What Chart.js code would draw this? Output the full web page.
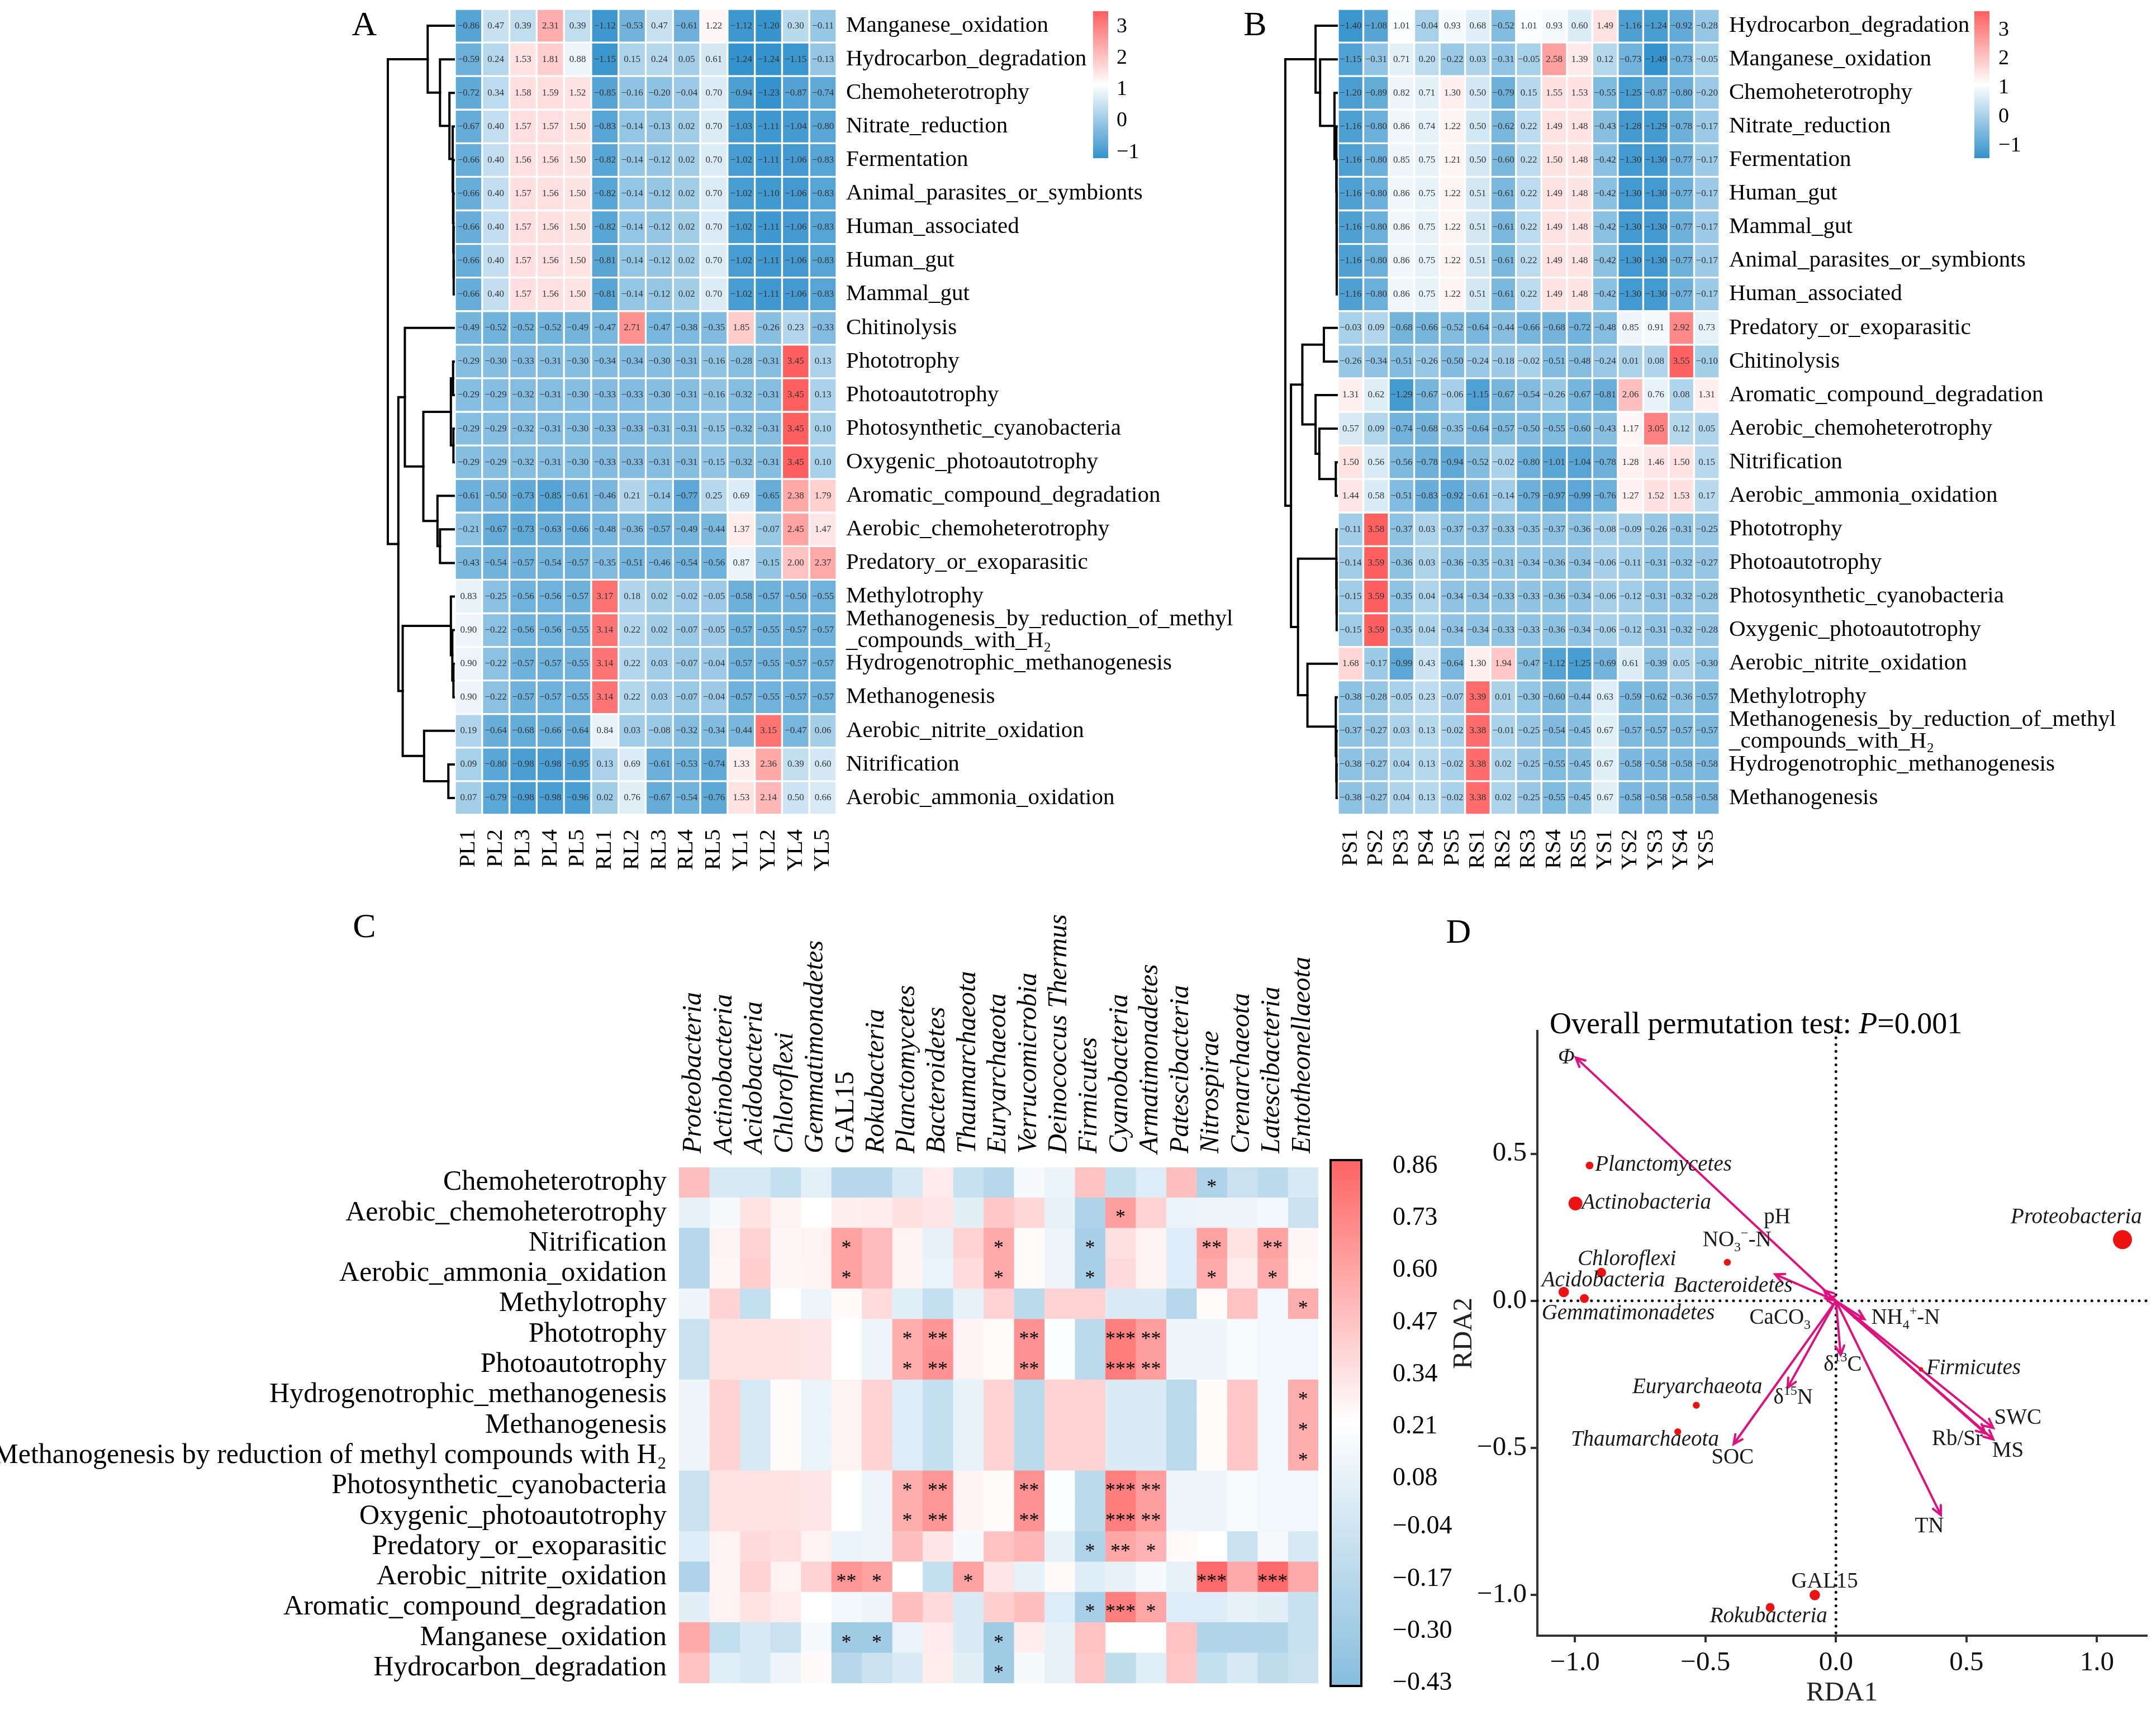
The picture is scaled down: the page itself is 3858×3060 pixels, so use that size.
<!DOCTYPE html>
<html lang="en">
<head>
<meta charset="UTF-8">
<script src="https://cdn.jsdelivr.net/npm/chart.js"></script>
<title>Functional groups, phyla and RDA</title>
<style>
  body { margin: 0; width: 3858px; height: 3060px; position: relative; background: #fff; overflow: hidden;
         font-family: "Liberation Serif", "DejaVu Serif", serif; color: #000; }
  canvas, .abs { position: absolute; }
  .letter { position: absolute; font-size: 62px; line-height: 1; transform: translate(-50%, -50%); }
  .cbl { position: absolute; line-height: 1; transform: translateY(-50%); white-space: nowrap; }
</style>
</head>
<body>
<canvas id="cA" width="1560" height="1580" style="left:690px;top:0px"></canvas>
<canvas id="cB" width="1588" height="1580" style="left:2270px;top:0px"></canvas>
<canvas id="cC" width="2380" height="1460" style="left:0px;top:1600px"></canvas>
<canvas id="cD" width="1298" height="1300" style="left:2560px;top:1760px"></canvas>

<div class="letter" style="left:652px;top:42px">A</div>
<div class="letter" style="left:2246px;top:42px">B</div>
<div class="letter" style="left:652px;top:1656px">C</div>
<div class="letter" style="left:2610px;top:1666px">D</div>
<div class="abs" style="left:2773px;top:1804px;font-size:54px;line-height:54px;white-space:nowrap">Overall permutation test: <i>P</i>=0.001</div>

<script>
// ---------- panel A : functional groups, leaf samples ----------
const colsA = ['PL1','PL2','PL3','PL4','PL5','RL1','RL2','RL3','RL4','RL5','YL1','YL2','YL4','YL5'];
const rowsA = ['Manganese_oxidation','Hydrocarbon_degradation','Chemoheterotrophy','Nitrate_reduction','Fermentation',
  'Animal_parasites_or_symbionts','Human_associated','Human_gut','Mammal_gut','Chitinolysis','Phototrophy','Photoautotrophy',
  'Photosynthetic_cyanobacteria','Oxygenic_photoautotrophy','Aromatic_compound_degradation','Aerobic_chemoheterotrophy',
  'Predatory_or_exoparasitic','Methylotrophy',['Methanogenesis_by_reduction_of_methyl','_compounds_with_H\u2082'],
  'Hydrogenotrophic_methanogenesis','Methanogenesis','Aerobic_nitrite_oxidation','Nitrification','Aerobic_ammonia_oxidation'];
const valsA = [
  [-0.86,0.47,0.39,2.31,0.39,-1.12,-0.53,0.47,-0.61,1.22,-1.12,-1.20,0.30,-0.11],
  [-0.59,0.24,1.53,1.81,0.88,-1.15,0.15,0.24,0.05,0.61,-1.24,-1.24,-1.15,-0.13],
  [-0.72,0.34,1.58,1.59,1.52,-0.85,-0.16,-0.20,-0.04,0.70,-0.94,-1.23,-0.87,-0.74],
  [-0.67,0.40,1.57,1.57,1.50,-0.83,-0.14,-0.13,0.02,0.70,-1.03,-1.11,-1.04,-0.80],
  [-0.66,0.40,1.56,1.56,1.50,-0.82,-0.14,-0.12,0.02,0.70,-1.02,-1.11,-1.06,-0.83],
  [-0.66,0.40,1.57,1.56,1.50,-0.82,-0.14,-0.12,0.02,0.70,-1.02,-1.10,-1.06,-0.83],
  [-0.66,0.40,1.57,1.56,1.50,-0.82,-0.14,-0.12,0.02,0.70,-1.02,-1.11,-1.06,-0.83],
  [-0.66,0.40,1.57,1.56,1.50,-0.81,-0.14,-0.12,0.02,0.70,-1.02,-1.11,-1.06,-0.83],
  [-0.66,0.40,1.57,1.56,1.50,-0.81,-0.14,-0.12,0.02,0.70,-1.02,-1.11,-1.06,-0.83],
  [-0.49,-0.52,-0.52,-0.52,-0.49,-0.47,2.71,-0.47,-0.38,-0.35,1.85,-0.26,0.23,-0.33],
  [-0.29,-0.30,-0.33,-0.31,-0.30,-0.34,-0.34,-0.30,-0.31,-0.16,-0.28,-0.31,3.45,0.13],
  [-0.29,-0.29,-0.32,-0.31,-0.30,-0.33,-0.33,-0.30,-0.31,-0.16,-0.32,-0.31,3.45,0.13],
  [-0.29,-0.29,-0.32,-0.31,-0.30,-0.33,-0.33,-0.31,-0.31,-0.15,-0.32,-0.31,3.45,0.10],
  [-0.29,-0.29,-0.32,-0.31,-0.30,-0.33,-0.33,-0.31,-0.31,-0.15,-0.32,-0.31,3.45,0.10],
  [-0.61,-0.50,-0.73,-0.85,-0.61,-0.46,0.21,-0.14,-0.77,0.25,0.69,-0.65,2.38,1.79],
  [-0.21,-0.67,-0.73,-0.63,-0.66,-0.48,-0.36,-0.57,-0.49,-0.44,1.37,-0.07,2.45,1.47],
  [-0.43,-0.54,-0.57,-0.54,-0.57,-0.35,-0.51,-0.46,-0.54,-0.56,0.87,-0.15,2.00,2.37],
  [0.83,-0.25,-0.56,-0.56,-0.57,3.17,0.18,0.02,-0.02,-0.05,-0.58,-0.57,-0.50,-0.55],
  [0.90,-0.22,-0.56,-0.56,-0.55,3.14,0.22,0.02,-0.07,-0.05,-0.57,-0.55,-0.57,-0.57],
  [0.90,-0.22,-0.57,-0.57,-0.55,3.14,0.22,0.03,-0.07,-0.04,-0.57,-0.55,-0.57,-0.57],
  [0.90,-0.22,-0.57,-0.57,-0.55,3.14,0.22,0.03,-0.07,-0.04,-0.57,-0.55,-0.57,-0.57],
  [0.19,-0.64,-0.68,-0.66,-0.64,0.84,0.03,-0.08,-0.32,-0.34,-0.44,3.15,-0.47,0.06],
  [0.09,-0.80,-0.98,-0.98,-0.95,0.13,0.69,-0.61,-0.53,-0.74,1.33,2.36,0.39,0.60],
  [0.07,-0.79,-0.98,-0.98,-0.96,0.02,0.76,-0.67,-0.54,-0.76,1.53,2.14,0.50,0.66]];
// row clustering: [height, left, right], leaves are row indexes
const treeA = [182,
  [72, 0, [38, 1, [12, 2, [3, 3, [2, 4, [1, 5, [0.6, 6, [0.3, 7, 8]]]]]]]],
  [153,
    [135, 9, [84, [8, [2, 10, 11], [1, 12, 13]], [45, 14, [38, 15, 16]]]],
    [141, [8, 17, [4, 18, [1, 19, 20]]], [82, 21, [15, 22, 23]]]]];
const barTicksA = [3, 2, 1, 0, -1];

// ---------- panel B : functional groups, soil samples ----------
const colsB = ['PS1','PS2','PS3','PS4','PS5','RS1','RS2','RS3','RS4','RS5','YS1','YS2','YS3','YS4','YS5'];
const rowsB = ['Hydrocarbon_degradation','Manganese_oxidation','Chemoheterotrophy','Nitrate_reduction','Fermentation',
  'Human_gut','Mammal_gut','Animal_parasites_or_symbionts','Human_associated','Predatory_or_exoparasitic','Chitinolysis',
  'Aromatic_compound_degradation','Aerobic_chemoheterotrophy','Nitrification','Aerobic_ammonia_oxidation','Phototrophy',
  'Photoautotrophy','Photosynthetic_cyanobacteria','Oxygenic_photoautotrophy','Aerobic_nitrite_oxidation','Methylotrophy',
  ['Methanogenesis_by_reduction_of_methyl','_compounds_with_H\u2082'],'Hydrogenotrophic_methanogenesis','Methanogenesis'];
const valsB = [
  [-1.40,-1.08,1.01,-0.04,0.93,0.68,-0.52,1.01,0.93,0.60,1.49,-1.16,-1.24,-0.92,-0.28],
  [-1.15,-0.31,0.71,0.20,-0.22,0.03,-0.31,-0.05,2.58,1.39,0.12,-0.73,-1.49,-0.73,-0.05],
  [-1.20,-0.89,0.82,0.71,1.30,0.50,-0.79,0.15,1.55,1.53,-0.55,-1.25,-0.87,-0.80,-0.20],
  [-1.16,-0.80,0.86,0.74,1.22,0.50,-0.62,0.22,1.49,1.48,-0.43,-1.28,-1.29,-0.78,-0.17],
  [-1.16,-0.80,0.85,0.75,1.21,0.50,-0.60,0.22,1.50,1.48,-0.42,-1.30,-1.30,-0.77,-0.17],
  [-1.16,-0.80,0.86,0.75,1.22,0.51,-0.61,0.22,1.49,1.48,-0.42,-1.30,-1.30,-0.77,-0.17],
  [-1.16,-0.80,0.86,0.75,1.22,0.51,-0.61,0.22,1.49,1.48,-0.42,-1.30,-1.30,-0.77,-0.17],
  [-1.16,-0.80,0.86,0.75,1.22,0.51,-0.61,0.22,1.49,1.48,-0.42,-1.30,-1.30,-0.77,-0.17],
  [-1.16,-0.80,0.86,0.75,1.22,0.51,-0.61,0.22,1.49,1.48,-0.42,-1.30,-1.30,-0.77,-0.17],
  [-0.03,0.09,-0.68,-0.66,-0.52,-0.64,-0.44,-0.66,-0.68,-0.72,-0.48,0.85,0.91,2.92,0.73],
  [-0.26,-0.34,-0.51,-0.26,-0.50,-0.24,-0.18,-0.02,-0.51,-0.48,-0.24,0.01,0.08,3.55,-0.10],
  [1.31,0.62,-1.29,-0.67,-0.06,-1.15,-0.67,-0.54,-0.26,-0.67,-0.81,2.06,0.76,0.08,1.31],
  [0.57,0.09,-0.74,-0.68,-0.35,-0.64,-0.57,-0.50,-0.55,-0.60,-0.43,1.17,3.05,0.12,0.05],
  [1.50,0.56,-0.56,-0.78,-0.94,-0.52,-0.02,-0.80,-1.01,-1.04,-0.78,1.28,1.46,1.50,0.15],
  [1.44,0.58,-0.51,-0.83,-0.92,-0.61,-0.14,-0.79,-0.97,-0.99,-0.76,1.27,1.52,1.53,0.17],
  [-0.11,3.58,-0.37,0.03,-0.37,-0.37,-0.33,-0.35,-0.37,-0.36,-0.08,-0.09,-0.26,-0.31,-0.25],
  [-0.14,3.59,-0.36,0.03,-0.36,-0.35,-0.31,-0.34,-0.36,-0.34,-0.06,-0.11,-0.31,-0.32,-0.27],
  [-0.15,3.59,-0.35,0.04,-0.34,-0.34,-0.33,-0.33,-0.36,-0.34,-0.06,-0.12,-0.31,-0.32,-0.28],
  [-0.15,3.59,-0.35,0.04,-0.34,-0.34,-0.33,-0.33,-0.36,-0.34,-0.06,-0.12,-0.31,-0.32,-0.28],
  [1.68,-0.17,-0.99,0.43,-0.64,1.30,1.94,-0.47,-1.12,-1.25,-0.69,0.61,-0.39,0.05,-0.30],
  [-0.38,-0.28,-0.05,0.23,-0.07,3.39,0.01,-0.30,-0.60,-0.44,0.63,-0.59,-0.62,-0.36,-0.57],
  [-0.37,-0.27,0.03,0.13,-0.02,3.38,-0.01,-0.25,-0.54,-0.45,0.67,-0.57,-0.57,-0.57,-0.57],
  [-0.38,-0.27,0.04,0.13,-0.02,3.38,0.02,-0.25,-0.55,-0.45,0.67,-0.58,-0.58,-0.58,-0.58],
  [-0.38,-0.27,0.04,0.13,-0.02,3.38,0.02,-0.25,-0.55,-0.45,0.67,-0.58,-0.58,-0.58,-0.58]];
const treeB = [272,
  [112, 0, [88, 1, [12, 2, [2, 3, [1, 4, [0.6, 5, [0.4, 6, [0.2, 7, 8]]]]]]]],
  [242,
    [182, [68, 9, 10], [112, 11, [92, 12, [5, 13, 14]]]],
    [205, [2, 15, [1, 16, [0.5, 17, 18]]], [155, 19, [5, 20, [2, 21, [1, 22, 23]]]]]]];
const barTicksB = [3, 2, 1, 0, -1];

// ---------- panel C : phyla vs functions correlation ----------
const colsC = ['Proteobacteria','Actinobacteria','Acidobacteria','Chloroflexi','Gemmatimonadetes','GAL15','Rokubacteria',
  'Planctomycetes','Bacteroidetes','Thaumarchaeota','Euryarchaeota','Verrucomicrobia','Deinococcus Thermus','Firmicutes',
  'Cyanobacteria','Armatimonadetes','Patescibacteria','Nitrospirae','Crenarchaeota','Latescibacteria','Entotheonellaeota'];
const rowsC = ['Chemoheterotrophy','Aerobic_chemoheterotrophy','Nitrification','Aerobic_ammonia_oxidation','Methylotrophy',
  'Phototrophy','Photoautotrophy','Hydrogenotrophic_methanogenesis','Methanogenesis',
  'Methanogenesis by reduction of methyl compounds with H\u2082','Photosynthetic_cyanobacteria','Oxygenic_photoautotrophy',
  'Predatory_or_exoparasitic','Aerobic_nitrite_oxidation','Aromatic_compound_degradation','Manganese_oxidation','Hydrocarbon_degradation'];
const corrC = [
  [0.48,0.00,0.00,-0.10,0.07,-0.17,-0.17,0.00,0.30,-0.08,-0.17,0.17,0.10,0.47,-0.10,0.03,0.48,-0.22,-0.07,-0.15,0.00],
  [0.08,0.17,0.33,0.27,0.21,0.28,0.29,0.34,0.32,0.06,0.45,0.38,0.08,-0.22,0.62,0.40,0.10,0.12,0.12,0.15,-0.07],
  [-0.17,0.27,0.40,0.25,0.27,0.60,0.50,0.27,0.08,0.40,0.57,0.23,0.12,-0.26,0.35,0.27,0.03,0.60,0.33,0.60,0.25],
  [-0.17,0.25,0.42,0.25,0.26,0.60,0.50,0.27,0.10,0.36,0.57,0.23,0.12,-0.26,0.37,0.27,0.03,0.57,0.29,0.57,0.24],
  [0.13,0.40,-0.10,0.21,0.12,0.24,0.36,0.05,-0.10,0.08,0.40,-0.15,0.40,0.40,0.02,0.02,-0.17,0.23,0.47,0.14,0.55],
  [-0.07,0.33,0.33,0.33,0.32,0.22,0.12,0.55,0.65,0.27,0.23,0.67,0.20,-0.15,0.75,0.62,0.13,0.13,0.18,0.14,0.14],
  [-0.07,0.33,0.33,0.33,0.32,0.22,0.12,0.55,0.67,0.27,0.23,0.67,0.20,-0.15,0.76,0.62,0.13,0.13,0.18,0.14,0.14],
  [0.13,0.40,0.00,0.23,0.10,0.27,0.40,0.03,-0.10,0.09,0.40,-0.15,0.40,0.40,0.02,0.02,-0.15,0.23,0.45,0.14,0.55],
  [0.13,0.40,0.00,0.23,0.10,0.27,0.40,0.03,-0.10,0.09,0.40,-0.15,0.40,0.40,0.02,0.02,-0.15,0.23,0.45,0.14,0.55],
  [0.13,0.40,0.00,0.23,0.10,0.27,0.40,0.03,-0.10,0.09,0.40,-0.15,0.40,0.40,0.02,0.02,-0.15,0.23,0.45,0.14,0.55],
  [-0.07,0.33,0.33,0.33,0.32,0.22,0.12,0.55,0.65,0.27,0.23,0.67,0.20,-0.15,0.75,0.62,0.13,0.13,0.18,0.14,0.14],
  [-0.07,0.33,0.33,0.33,0.32,0.22,0.12,0.55,0.65,0.27,0.23,0.67,0.20,-0.15,0.75,0.62,0.13,0.13,0.18,0.14,0.14],
  [0.03,0.27,0.37,0.35,0.27,0.10,0.12,0.48,0.32,0.17,0.47,0.52,0.08,-0.22,0.58,0.53,0.24,0.21,-0.07,0.16,0.00],
  [-0.22,0.27,0.40,0.27,0.40,0.65,0.60,0.22,-0.10,0.60,0.32,0.08,0.24,0.04,0.08,0.17,0.08,0.84,0.57,0.84,0.57],
  [0.06,0.27,0.33,0.29,0.21,0.15,0.12,0.48,0.37,0.02,0.42,0.48,0.03,-0.26,0.75,0.58,0.03,0.03,0.08,0.06,-0.08],
  [0.57,-0.12,0.00,-0.07,0.17,-0.30,-0.30,0.10,0.30,0.02,-0.30,0.29,0.08,0.47,0.21,0.22,0.47,-0.20,-0.20,-0.20,-0.08],
  [0.47,0.05,0.00,0.12,0.24,-0.17,-0.07,0.02,0.29,0.06,-0.30,0.17,0.08,0.45,-0.13,0.05,0.45,-0.10,0.00,-0.13,-0.07]];
// significance marks: [row, column, stars]
const starsC = [
  [0,17,'*'],[1,14,'*'],
  [2,5,'*'],[2,10,'*'],[2,13,'*'],[2,17,'**'],[2,19,'**'],
  [3,5,'*'],[3,10,'*'],[3,13,'*'],[3,17,'*'],[3,19,'*'],
  [4,20,'*'],
  [5,7,'*'],[5,8,'**'],[5,11,'**'],[5,14,'***'],[5,15,'**'],
  [6,7,'*'],[6,8,'**'],[6,11,'**'],[6,14,'***'],[6,15,'**'],
  [7,20,'*'],[8,20,'*'],[9,20,'*'],
  [10,7,'*'],[10,8,'**'],[10,11,'**'],[10,14,'***'],[10,15,'**'],
  [11,7,'*'],[11,8,'**'],[11,11,'**'],[11,14,'***'],[11,15,'**'],
  [12,13,'*'],[12,14,'**'],[12,15,'*'],
  [13,5,'**'],[13,6,'*'],[13,9,'*'],[13,17,'***'],[13,19,'***'],
  [14,13,'*'],[14,14,'***'],[14,15,'*'],
  [15,5,'*'],[15,6,'*'],[15,10,'*'],
  [16,10,'*']];
const barTicksC = [0.86, 0.73, 0.60, 0.47, 0.34, 0.21, 0.08, -0.04, -0.17, -0.30, -0.43];

// ---------- panel D : RDA ----------
const spNames = ['Proteobacteria','Actinobacteria','Acidobacteria','Chloroflexi','Gemmatimonadetes','GAL15',
  'Rokubacteria','Planctomycetes','Bacteroidetes','Firmicutes','Euryarchaeota','Thaumarchaeota'];
const spX = [1.098, -0.998, -1.043, -0.899, -0.964, -0.081, -0.252, -0.944, -0.416, 0.326, -0.535, -0.606];
const spY = [0.208, 0.331, 0.030, 0.096, 0.008, -1.000, -1.042, 0.460, 0.131, -0.233, -0.355, -0.445];
const spAbund = [30, 16, 9, 7.5, 6.5, 9, 6.5, 5, 4, 1.6, 4, 4];
const spLabX = [0.921, -0.726, -0.891, -0.801, -0.796, -0.043, -0.258, -0.661, -0.394, 0.527, -0.531, -0.732];
const spLabY = [0.283, 0.333, 0.068, 0.140, -0.044, -0.956, -1.073, 0.462, 0.050, -0.230, -0.295, -0.473];

const envNames = ['\u03A6','pH','NO_{3}^{\u2212}-N','CaCO_{3}','NH_{4}^{+}-N','\u03B4^{13}C','\u03B4^{15}N','SOC','TN','SWC','MS','Rb/Sr'];
const envX = [-0.997, -0.045, -0.233, -0.040, 0.109, 0.018, -0.185, -0.392, 0.402, 0.603, 0.603, 0.573];
const envY = [0.827, 0.035, 0.090, 0.008, -0.062, -0.184, -0.295, -0.487, -0.728, -0.432, -0.471, -0.451];
const envLabX = [-1.033, -0.225, -0.379, -0.214, 0.267, 0.026, -0.164, -0.396, 0.358, 0.697, 0.659, 0.465];
const envLabY = [0.827, 0.283, 0.205, -0.059, -0.059, -0.218, -0.331, -0.533, -0.767, -0.398, -0.510, -0.471];
const xTicksD = [-1, -0.5, 0, 0.5, 1];
const yTicksD = [-1, -0.5, 0, 0.5];

// ---------- helpers ----------
Chart.defaults.font.family = '"Liberation Serif", serif';
Chart.defaults.color = '#000';
const SERIF = '"Liberation Serif", serif';
const minus = s => String(s).replace('-', '\u2212');

function ramp(v, lo, mid, hi, cLo, cHi) {
  let t, a, b;
  if (v <= mid) { t = (v - lo) / (mid - lo); a = cLo; b = [255, 255, 255]; }
  else { t = (v - mid) / (hi - mid); a = [255, 255, 255]; b = cHi; }
  t = Math.max(0, Math.min(1, t));
  return 'rgb(' + a.map((c, i) => Math.round(c + (b[i] - c) * t)).join(',') + ')';
}

function colorbar(o) {
  const bar = document.createElement('div');
  bar.className = 'abs';
  const pm = ((o.hi - o.mid) / (o.hi - o.lo) * 100).toFixed(1);
  bar.style.cssText = `left:${o.left}px;top:${o.top}px;width:${o.w}px;height:${o.h}px;box-sizing:border-box;` +
    `background:linear-gradient(to bottom, rgb(${o.cHi}) 0%, #fff ${pm}%, rgb(${o.cLo}) 100%);` + (o.border || '');
  document.body.appendChild(bar);
  const t0 = o.top + (o.inset || 0), span = o.h - 2 * (o.inset || 0);
  o.ticks.forEach(v => {
    const t = document.createElement('div');
    t.className = 'cbl';
    t.style.left = o.labelLeft + 'px';
    t.style.top = (t0 + (o.hi - v) / (o.hi - o.lo) * span) + 'px';
    t.style.fontSize = o.font + 'px';
    t.textContent = o.fmt(v);
    document.body.appendChild(t);
  });
}

function dendro(tree, width) {
  return {
    id: 'dendro',
    afterDraw(chart) {
      const ys = chart.scales.y, ctx = chart.ctx, x0 = chart.chartArea.left - 2;
      const k = width / tree[0];
      ctx.save();
      ctx.strokeStyle = '#000'; ctx.lineWidth = 4; ctx.lineCap = 'square';
      const walk = n => {
        if (typeof n === 'number') return { x: x0, y: ys.getPixelForTick(n) };
        const a = walk(n[1]), b = walk(n[2]), x = x0 - n[0] * k;
        ctx.beginPath(); ctx.moveTo(a.x, a.y); ctx.lineTo(x, a.y); ctx.lineTo(x, b.y); ctx.lineTo(b.x, b.y); ctx.stroke();
        return { x, y: (a.y + b.y) / 2 };
      };
      walk(tree);
      ctx.restore();
    }
  };
}

function cellText(vals) {
  return {
    id: 'cellText',
    afterDatasetsDraw(chart) {
      const ctx = chart.ctx;
      ctx.save();
      ctx.font = '17px ' + SERIF; ctx.fillStyle = '#333'; ctx.textAlign = 'center'; ctx.textBaseline = 'middle';
      chart.data.datasets.forEach((ds, j) => {
        chart.getDatasetMeta(j).data.forEach((el, i) => {
          const p = el.getCenterPoint();
          ctx.fillText(minus(vals[i][j].toFixed(2)), p.x, p.y);
        });
      });
      ctx.restore();
    }
  };
}

function heatmap(id, rows, cols, vals, tree, treeW, yWidth) {
  const flat = vals.flat(), lo = Math.min(...flat), hi = Math.max(...flat), mid = (lo + hi) / 2;
  const cLo = [52, 146, 204], cHi = [255, 95, 95];
  new Chart(document.getElementById(id), {
    type: 'bar',
    data: {
      labels: rows,
      datasets: cols.map((c, j) => ({
        label: c,
        data: rows.map(() => [j, j + 1]),
        backgroundColor: rows.map((r, i) => ramp(vals[i][j], lo, mid, hi, cLo, cHi)),
        borderColor: '#fff', borderWidth: 2, borderSkipped: false
      }))
    },
    options: {
      indexAxis: 'y', responsive: false, animation: false,
      layout: { padding: { left: 124, top: 16, right: 0, bottom: 0 } },
      datasets: { bar: { grouped: false, barPercentage: 1, categoryPercentage: 1 } },
      plugins: { legend: { display: false }, tooltip: { enabled: false } },
      scales: {
        y: {
          position: 'right', grid: { display: false }, border: { display: false },
          ticks: { autoSkip: false, padding: 9, font: { size: 41, lineHeight: 0.95 }, color: '#000' },
          afterFit: s => { s.width = yWidth; s.paddingTop = 0; s.paddingBottom = 0; }
        },
        x: {
          type: 'linear', min: 0, max: cols.length, grid: { display: false }, border: { display: false },
          afterBuildTicks: s => { s.ticks = cols.map((c, i) => ({ value: i + 0.5 })); },
          ticks: { autoSkip: false, minRotation: 90, maxRotation: 90, padding: 18, font: { size: 41 }, color: '#000',
                   callback: v => cols[Math.floor(v)] },
          afterFit: s => { s.height = 122; s.paddingLeft = 0; s.paddingRight = 0; }
        }
      }
    },
    plugins: [dendro(tree, treeW), cellText(vals)]
  });
  return { lo, mid, hi, cLo, cHi };
}

// ---------- A and B ----------
const sA = heatmap('cA', rowsA, colsA, valsA, treeA, 118, 753);
colorbar({ left: 1956, top: 20, w: 27, h: 263, lo: sA.lo, mid: sA.mid, hi: sA.hi, cLo: sA.cLo, cHi: sA.cHi,
  ticks: barTicksA, labelLeft: 1998, font: 38, fmt: v => minus(v) });
const sB = heatmap('cB', rowsB, colsB, valsB, treeB, 92, 781);
colorbar({ left: 3533, top: 20, w: 27, h: 263, lo: sB.lo, mid: sB.mid, hi: sB.hi, cLo: sB.cLo, cHi: sB.cHi,
  ticks: barTicksB, labelLeft: 3576, font: 38, fmt: v => minus(v) });

// ---------- C ----------
const loC = -0.43, hiC = 0.86, midC = (loC + hiC) / 2, cLoC = [135, 190, 222], cHiC = [255, 100, 100];
const starPlugin = {
  id: 'stars',
  afterDatasetsDraw(chart) {
    const ctx = chart.ctx;
    ctx.save();
    ctx.font = '36px ' + SERIF; ctx.fillStyle = '#000'; ctx.textAlign = 'center'; ctx.textBaseline = 'alphabetic';
    starsC.forEach(([i, j, s]) => {
      const p = chart.getDatasetMeta(j).data[i].getCenterPoint();
      ctx.fillText(s, p.x, p.y + 19);
    });
    ctx.restore();
  }
};
new Chart(document.getElementById('cC'), {
  type: 'bar',
  data: {
    labels: rowsC,
    datasets: colsC.map((c, j) => ({
      label: c,
      data: rowsC.map(() => [j, j + 1]),
      backgroundColor: rowsC.map((r, i) => ramp(corrC[i][j], loC, midC, hiC, cLoC, cHiC)),
      borderWidth: 0
    }))
  },
  options: {
    indexAxis: 'y', responsive: false, animation: false,
    layout: { padding: { left: 0, top: 0, right: 21, bottom: 48 } },
    datasets: { bar: { grouped: false, barPercentage: 1, categoryPercentage: 1 } },
    plugins: { legend: { display: false }, tooltip: { enabled: false } },
    scales: {
      y: {
        position: 'left', grid: { display: false }, border: { display: false },
        ticks: { autoSkip: false, padding: 14, font: { size: 50 }, color: '#000' },
        afterFit: s => { s.width = 1215; s.paddingTop = 0; s.paddingBottom = 0; }
      },
      x: {
        type: 'linear', position: 'top', min: 0, max: colsC.length, grid: { display: false }, border: { display: false },
        afterBuildTicks: s => { s.ticks = colsC.map((c, i) => ({ value: i + 0.5 })); },
        ticks: {
          autoSkip: false, minRotation: 90, maxRotation: 90, padding: 17, color: '#000', labelOffset: 57,
          font: ctx => ({ size: 48, style: colsC[ctx.index] === 'GAL15' ? 'normal' : 'italic' }),
          callback: v => colsC[Math.floor(v)]
        },
        afterFit: s => { s.height = 489; s.paddingLeft = 0; s.paddingRight = 0; }
      }
    }
  },
  plugins: [starPlugin]
});
colorbar({ left: 2379, top: 2074, w: 59, h: 945, lo: loC, mid: midC, hi: hiC, cLo: cLoC, cHi: cHiC,
  border: 'border:4px solid #000;', inset: 10, ticks: barTicksC, labelLeft: 2492, font: 46, fmt: v => minus(v.toFixed(2)) });

// ---------- D ----------
function richParts(s) {
  const parts = [], re = /([_^])\{([^}]*)\}/g;
  let last = 0, m;
  while ((m = re.exec(s))) {
    if (m.index > last) parts.push({ t: s.slice(last, m.index), k: 0 });
    parts.push({ t: m[2], k: m[1] === '_' ? 1 : -1 });
    last = re.lastIndex;
  }
  if (last < s.length) parts.push({ t: s.slice(last), k: 0 });
  return parts;
}
function drawRich(ctx, s, cx, cy, size, style) {
  const parts = richParts(s);
  const f = k => `${style} ${k ? Math.round(size * 0.62) : size}px ${SERIF}`;
  let w = 0;
  parts.forEach(p => { ctx.font = f(p.k); p.w = ctx.measureText(p.t).width; w += p.w; });
  let x = cx - w / 2;
  ctx.textAlign = 'left'; ctx.textBaseline = 'middle';
  parts.forEach(p => { ctx.font = f(p.k); ctx.fillText(p.t, x, cy + p.k * size * 0.32); x += p.w; });
}

const rdaDecor = {
  id: 'rdaDecor',
  beforeDatasetsDraw(chart) {
    const { ctx, chartArea: a, scales: { x, y } } = chart;
    const x0 = x.getPixelForValue(0), y0 = y.getPixelForValue(0);
    ctx.save();
    ctx.strokeStyle = '#111'; ctx.lineWidth = 5; ctx.lineCap = 'round'; ctx.setLineDash([0.1, 12]);
    ctx.beginPath(); ctx.moveTo(x0, a.top); ctx.lineTo(x0, a.bottom); ctx.moveTo(a.left, y0); ctx.lineTo(a.right, y0); ctx.stroke();
    ctx.restore();
  },
  afterDatasetsDraw(chart) {
    const { ctx, scales: { x, y } } = chart;
    const x0 = x.getPixelForValue(0), y0 = y.getPixelForValue(0);
    ctx.save();
    ctx.strokeStyle = '#e0107f'; ctx.lineWidth = 4; ctx.lineCap = 'round';
    envNames.forEach((n, i) => {
      const px = x.getPixelForValue(envX[i]), py = y.getPixelForValue(envY[i]);
      const ang = Math.atan2(py - y0, px - x0), L = 18;
      ctx.beginPath();
      ctx.moveTo(px - L * Math.cos(ang - 0.45), py - L * Math.sin(ang - 0.45));
      ctx.lineTo(px, py);
      ctx.lineTo(px - L * Math.cos(ang + 0.45), py - L * Math.sin(ang + 0.45));
      ctx.stroke();
    });
    ctx.fillStyle = '#1a1a1a';
    envNames.forEach((n, i) => {
      drawRich(ctx, n, x.getPixelForValue(envLabX[i]), y.getPixelForValue(envLabY[i]), 39, i === 0 ? 'italic' : 'normal');
    });
    spNames.forEach((n, i) => {
      drawRich(ctx, n, x.getPixelForValue(spLabX[i]), y.getPixelForValue(spLabY[i]), 39, n === 'GAL15' ? 'normal' : 'italic');
    });
    ctx.restore();
  }
};

const axisD = {
  grid: { display: true, drawOnChartArea: false, drawTicks: true, tickLength: 12, color: '#333', lineWidth: 4 },
  border: { display: true, color: '#333', width: 4 }
};
new Chart(document.getElementById('cD'), {
  type: 'scatter',
  data: {
    datasets: [
      { data: spNames.map((n, i) => ({ x: spX[i], y: spY[i] })), pointRadius: spAbund.map(a => 3.1 * Math.sqrt(a)),
        backgroundColor: '#ee1111', borderWidth: 0, clip: false },
      ...envNames.map((n, i) => ({ data: [{ x: 0, y: 0 }, { x: envX[i], y: envY[i] }], showLine: true,
        borderColor: '#e0107f', borderWidth: 4, pointRadius: 0 }))
    ]
  },
  options: {
    responsive: false, animation: false,
    layout: { padding: { top: 85, right: 15, left: 0, bottom: 0 } },
    plugins: { legend: { display: false }, tooltip: { enabled: false } },
    scales: {
      x: {
        ...axisD, min: -1.144, max: 1.19,
        afterBuildTicks: s => { s.ticks = xTicksD.map(v => ({ value: v })); },
        ticks: { padding: 8, font: { size: 49 }, color: '#111', callback: v => minus(v.toFixed(1)) },
        title: { display: true, text: 'RDA1', font: { size: 49 }, color: '#222', padding: { top: 0, bottom: 0 } },
        afterFit: s => { s.height = 133; }
      },
      y: {
        ...axisD, min: -1.138, max: 0.917,
        afterBuildTicks: s => { s.ticks = yTicksD.map(v => ({ value: v })); },
        ticks: { padding: 7, font: { size: 49 }, color: '#111', callback: v => minus(v.toFixed(1)) },
        title: { display: true, text: 'RDA2', font: { size: 49 }, color: '#222', padding: { top: 31, bottom: 0 } },
        afterFit: s => { s.width = 191; }
      }
    }
  },
  plugins: [rdaDecor]
});
</script>
</body>
</html>
